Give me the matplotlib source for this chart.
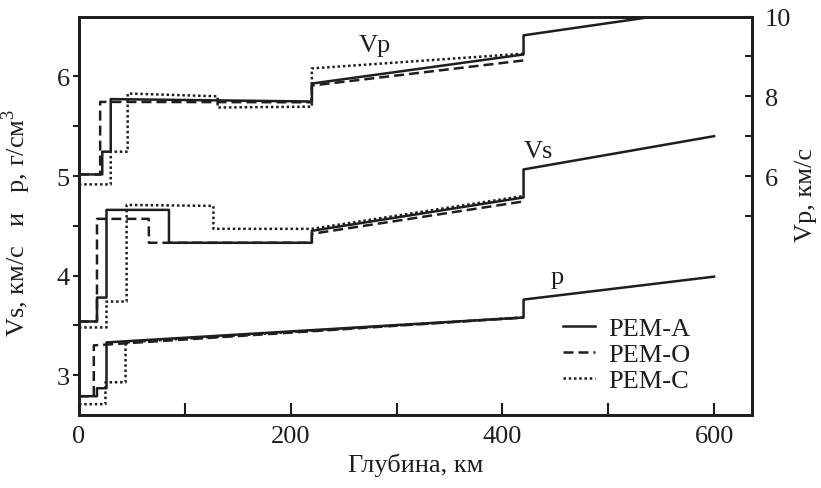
import numpy as np
import matplotlib
matplotlib.use('Agg')
import matplotlib.pyplot as plt

plt.rcParams['font.family'] = ['Liberation Serif', 'DejaVu Serif']
plt.rcParams['mathtext.fontset'] = 'custom'
plt.rcParams['mathtext.rm'] = 'Liberation Serif'
plt.rcParams['font.size'] = 19

# P-wave velocity, km/s (right axis)
vp_a_depth = [0, 22, 22, 30, 30, 220, 220, 420, 420, 600]
vp_a = [6.04, 6.04, 6.61, 6.61, 7.93, 7.87, 8.32, 9.05, 9.53, 10.22]
vp_o_depth = [0, 20, 20, 220, 220, 420]
vp_o = [6.04, 6.04, 7.86, 7.85, 8.27, 8.90]
vp_c_depth = [0, 30, 30, 46, 46, 131, 131, 220, 220, 420]
vp_c = [5.79, 5.79, 6.61, 6.61, 8.07, 8.00, 7.72, 7.74, 8.70, 9.07]

# S-wave velocity, km/s (left axis)
vs_a_depth = [0, 17, 17, 26, 26, 85, 85, 220, 220, 420, 420, 600]
vs_a = [3.54, 3.54, 3.78, 3.78, 4.66, 4.66, 4.33, 4.33, 4.45, 4.785, 5.066, 5.40]
vs_o_depth = [0, 17, 17, 66, 66, 220, 220, 420]
vs_o = [3.54, 3.54, 4.57, 4.57, 4.33, 4.33, 4.42, 4.745]
vs_c_depth = [0, 26, 26, 45, 45, 127, 127, 220, 420]
vs_c = [3.48, 3.48, 3.74, 3.74, 4.71, 4.70, 4.47, 4.47, 4.80]

# density, g/cm3 (left axis)
rho_a_depth = [0, 17, 17, 26, 26, 420, 420, 600]
rho_a = [2.79, 2.79, 2.87, 2.87, 3.33, 3.58, 3.76, 3.99]
rho_o_depth = [0, 14, 14, 420]
rho_o = [2.79, 2.79, 3.30, 3.58]
rho_c_depth = [0, 25, 25, 44, 44, 420]
rho_c = [2.71, 2.71, 2.93, 2.93, 3.33, 3.58]

models = ['PEM-A', 'PEM-O', 'PEM-C']
ink = '#1e1e1e'
lw = 1.8
styles = {'PEM-A': '-', 'PEM-O': (0, (4, 2)), 'PEM-C': (0, (1, 1.1))}

fig = plt.figure(figsize=(8.21, 4.89), dpi=100)
ax = fig.add_axes([0.0962, 0.149, 0.82, 0.815])
ax2 = ax.twinx()

left_sets = [(vs_a_depth, vs_a, rho_a_depth, rho_a),
             (vs_o_depth, vs_o, rho_o_depth, rho_o),
             (vs_c_depth, vs_c, rho_c_depth, rho_c)]
right_sets = [(vp_a_depth, vp_a), (vp_o_depth, vp_o), (vp_c_depth, vp_c)]

handles = []
for name, (vd, vs, rd, rho), (pd, vp) in zip(models, left_sets, right_sets):
    h, = ax.plot(vd, vs, color=ink, lw=lw, linestyle=styles[name], label=name)
    ax.plot(rd, rho, color=ink, lw=lw, linestyle=styles[name])
    ax2.plot(pd, vp, color=ink, lw=lw, linestyle=styles[name])
    handles.append(h)

ax.set_xlim(0, 636)
ax.set_ylim(2.6, 6.6)
ax2.set_ylim(0, 10)

ax.set_xticks([0, 200, 400, 600])
ax.set_xticks([100, 300, 500], minor=True)
ax.set_yticks([3, 4, 5, 6])
ax.set_yticks([3.5, 4.5, 5.5], minor=True)
ax2.set_yticks([6, 8, 10])
ax2.set_yticks([5, 7, 9], minor=True)

ax.tick_params(axis='x', which='both', direction='in', length=8.5, width=1.5,
               pad=7, colors=ink)
ax.tick_params(axis='y', which='both', direction='out', length=4.5, width=1.5,
               pad=2, colors=ink)
ax2.tick_params(axis='y', which='both', direction='in', length=5, width=1.5,
                pad=9, colors=ink)

for a in (ax, ax2):
    for s in a.spines.values():
        s.set_linewidth(2)
        s.set_color(ink)

ax.set_xlabel('Глубина, км', color=ink, labelpad=4)
ax.set_ylabel('Vs, км/с   и   р, г/см$^3$', color=ink)
ax.yaxis.set_label_coords(-0.068, 0.486)
ax2.set_ylabel('Vp, км/с', color=ink, rotation=90)
ax2.yaxis.set_label_coords(1.064, 0.554)

ax.text(0.44, 0.93, 'Vp', transform=ax.transAxes, ha='center', va='center',
        color=ink)
ax.text(0.682, 0.662, 'Vs', transform=ax.transAxes, ha='center', va='center',
        color=ink)
ax.text(0.71, 0.346, 'р', transform=ax.transAxes, ha='center', va='center',
        color=ink)

ax.legend(handles=handles, loc='center left', bbox_to_anchor=(0.70, 0.153),
          frameon=False, handlelength=1.2, handletextpad=0.5,
          labelspacing=0.1, borderpad=0, labelcolor=ink)

fig.savefig('out.png', dpi=100)
